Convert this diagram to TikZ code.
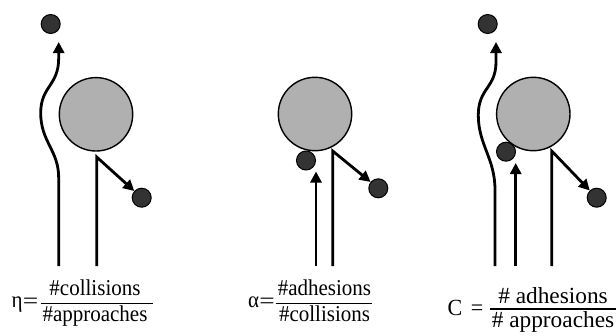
\documentclass[tikz,border=0pt]{standalone}
\usepackage{fontspec}
\setmainfont{Liberation Serif}
\usetikzlibrary{arrows.meta}

\begin{document}
\begin{tikzpicture}[x=1pt,y=-1pt,
  collector/.style={circle,draw=black,line width=1.4pt,fill=black!31,minimum size=73.4pt,inner sep=0pt},
  particle/.style={circle,draw=black,line width=1pt,fill=black!80,minimum size=19pt,inner sep=0pt},
  flow/.style={line width=2.8pt,line join=miter},
  tip/.style={-{Triangle[length=11pt,width=11pt]}},
  eqtext/.style={font=\fontsize{21}{24}\selectfont,inner sep=0pt,anchor=base,yscale=1.08},
  bigeq/.style={font=\fontsize{22}{25}\selectfont,inner sep=0pt,anchor=base,yscale=1.05},
  bar/.style={line width=1.2pt}]
\useasboundingbox (0,0) rectangle (616,335);

% ---- collision efficiency ----
\node[collector] (c1) at (96,114.3) {};
\node[particle] (p1a) at (50.7,24) {};
\node[particle] (p1b) at (141.7,197.7) {};
\coordinate (w1s) at (58.7,266);
\coordinate (w1e) at (58.7,42);
\coordinate (b1) at (96.7,266);
\coordinate (k1) at (96.7,157);
\draw[flow,tip] (w1s) -- (58.7,178)
  .. controls (58.7,150) and (40.7,142) .. (40.7,113)
  .. controls (40.7,86) and (58.7,86) .. (58.7,58) -- (w1e);
\draw[flow,tip] (b1) -- (k1) -- (p1b);

\node[eqtext] (eta) at (17,307.5) {η};
\node[eqtext,xscale=1.3] (eq1) at (30.5,308) {=};
\node[eqtext] (n1) at (95,295) {\#collisions};
\node[eqtext] (d1) at (95,321) {\#approaches};
\coordinate (f1l) at (40.5,303.8);
\coordinate (f1r) at (153,303.8);
\draw[bar] (f1l) -- (f1r);

% ---- attachment efficiency ----
\node[collector] (c2) at (315,114) {};
\node[particle] (p2a) at (306,160.5) {};
\node[particle] (p2b) at (378.3,188.3) {};
\coordinate (a2s) at (316,266);
\coordinate (a2e) at (316,171.5);
\coordinate (b2) at (332.7,266);
\coordinate (k2) at (332.7,151);
\draw[flow,tip] (a2s) -- (a2e);
\draw[flow,tip] (b2) -- (k2) -- (p2b);

\node[eqtext] (alpha) at (253.5,307.5) {α};
\node[eqtext,xscale=1.3] (eq2) at (267,308) {=};
\node[eqtext] (n2) at (324.5,295) {\#adhesions};
\node[eqtext] (d2) at (324.5,321) {\#collisions};
\coordinate (f2l) at (275.5,303.8);
\coordinate (f2r) at (371.7,303.8);
\draw[bar] (f2l) -- (f2r);

% ---- overall collection efficiency ----
\node[collector] (c3) at (533.3,114) {};
\node[particle] (p3a) at (487.7,24) {};
\node[particle] (p3b) at (506,151.7) {};
\node[particle] (p3c) at (596.7,197.7) {};
\coordinate (w3s) at (495,266);
\coordinate (w3e) at (496,42);
\coordinate (a3s) at (515.7,266);
\coordinate (a3e) at (515.7,163);
\coordinate (b3) at (551.7,266);
\coordinate (k3) at (551.7,151);
\draw[flow,tip] (w3s) -- (495,190)
  .. controls (495,158) and (478.3,145) .. (478.3,115)
  .. controls (478.3,88) and (496,88) .. (496,62) -- (w3e);
\draw[flow,tip] (a3s) -- (a3e);
\draw[flow,tip] (b3) -- (k3) -- (p3c);

\node[bigeq] (cc) at (455,315) {C};
\node[bigeq] (eq3) at (477,315) {=};
\node[bigeq,xscale=1.06] (n3) at (553,303.3) {\# adhesions};
\node[bigeq,xscale=1.06] (d3) at (553,327) {\# approaches};
\coordinate (f3l) at (490,309);
\coordinate (f3r) at (620,309);
\draw[bar] (f3l) -- (f3r);
\end{tikzpicture}
\end{document}
